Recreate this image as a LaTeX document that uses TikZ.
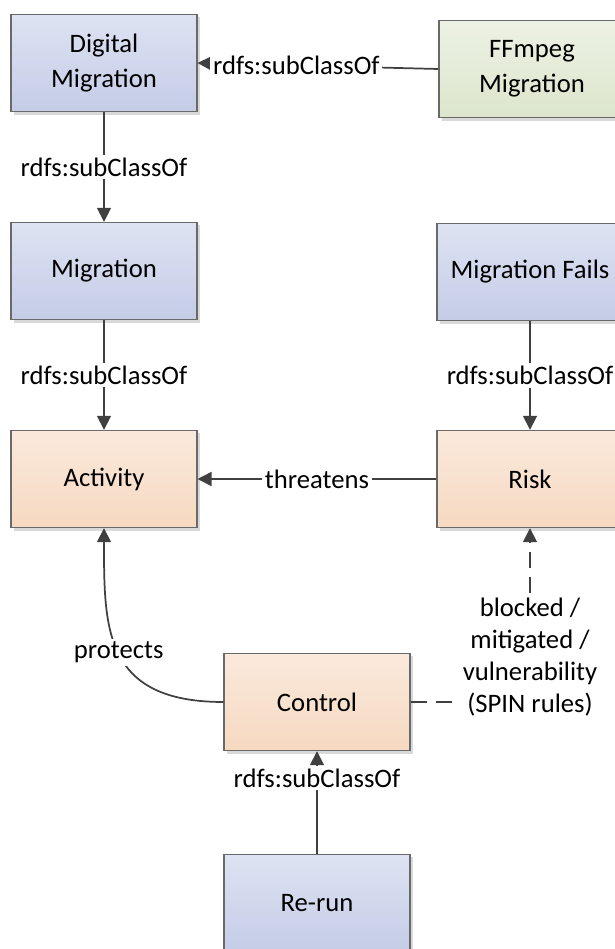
\documentclass[tikz,border=0pt]{standalone}
\usepackage{fontspec}
\setmainfont{Carlito}
\usepackage{tikz}
\usetikzlibrary{arrows.meta}
\usetikzlibrary{shadows}

\definecolor{blueTop}{RGB}{222,227,242}
\definecolor{blueBot}{RGB}{196,204,231}
\definecolor{orangeTop}{RGB}{250,233,220}
\definecolor{orangeBot}{RGB}{246,217,193}
\definecolor{greenTop}{RGB}{237,242,228}
\definecolor{greenBot}{RGB}{220,229,204}
\definecolor{boxLine}{RGB}{105,105,105}
\definecolor{linkGray}{RGB}{64,64,64}

\begin{document}
\begin{tikzpicture}[x=0.75pt,y=-0.75pt,font=\fontsize{20}{26}\selectfont,
    % styles
    class box/.style={draw=boxLine,line width=0.8pt,minimum width=139.5pt,
      minimum height=73pt,inner sep=2pt,align=center,
      drop shadow={shadow xshift=2.2pt,shadow yshift=-2.2pt,fill=black!15,opacity=1}},
    blue class/.style={class box,top color=blueTop,bottom color=blueBot},
    orange class/.style={class box,top color=orangeTop,bottom color=orangeBot},
    green class/.style={class box,top color=greenTop,bottom color=greenBot},
    link line/.style={draw=linkGray,line width=1.3pt,-{Triangle[length=10.5pt,width=10.5pt]}},
    dashed link/.style={link line,dash pattern=on 12pt off 7pt},
    edge label/.style={fill=white,inner sep=2pt}]

  \useasboundingbox (0,0) rectangle (614,949);

  % boxes
  \node[blue class] (digital) at (104,63) {Digital\\Migration};
  \node[green class] (ffmpeg) at (532,69) {FFmpeg\\Migration};
  \node[blue class] (migration) at (104,271) {Migration};
  \node[blue class] (fails) at (530,272) {Migration Fails};
  \node[orange class] (activity) at (104,479) {Activity};
  \node[orange class] (risk) at (530,479) {Risk};
  \node[orange class] (control) at (317,702) {Control};
  \node[blue class] (rerun) at (317,903) {Re-run};

  % subclass links
  \draw[link line] (ffmpeg.west) -- node[edge label,pos=0.59] (sub1) {rdfs:subClassOf} (digital.east);
  \draw[link line] (digital) -- node[edge label] (sub2) {rdfs:subClassOf} (migration);
  \draw[link line] (migration) -- node[edge label] (sub3) {rdfs:subClassOf} (activity);
  \draw[link line] (fails) -- node[edge label] (sub4) {rdfs:subClassOf} (risk);
  \draw[link line] (rerun.north) -- node[edge label,pos=0.74] (sub5) {rdfs:subClassOf} (control.south);

  % threatens / protects
  \draw[link line] (risk.west) -- node[edge label] (threat) {threatens} (activity.east);
  \draw[link line] (control.west) .. controls +(-120,0) and +(0,100) ..
    node[edge label] (protect) {protects} (activity.south);

  % rules link
  \draw[dashed link] (control.east) -| node[edge label,pos=0.63,align=center,
    font=\fontsize{20}{24}\selectfont] (rules)
    {blocked /\\mitigated /\\vulnerability\\(SPIN rules)} (risk.south);
\end{tikzpicture}
\end{document}
